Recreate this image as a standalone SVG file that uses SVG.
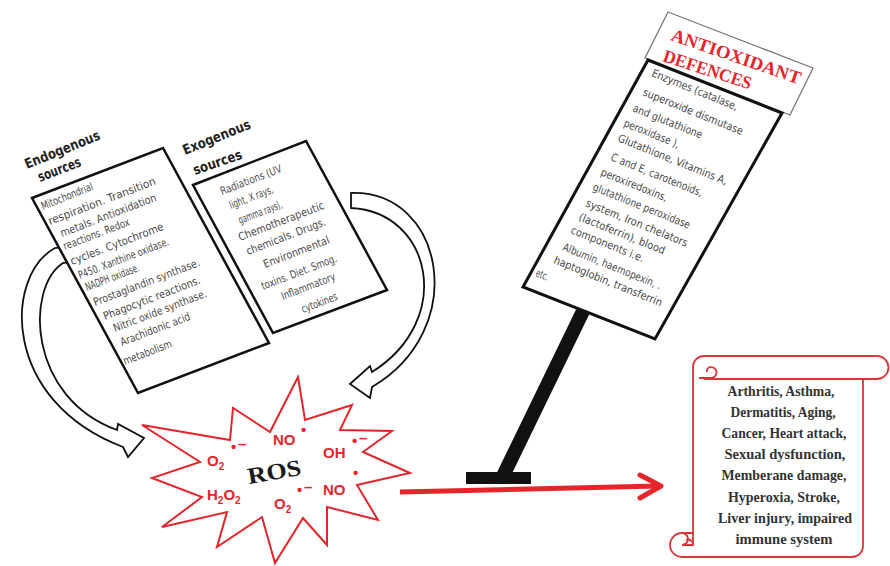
<svg xmlns="http://www.w3.org/2000/svg" width="890" height="566" viewBox="0 0 890 566">
  <style>
    .bx { fill: #fff; stroke: #111; stroke-width: 2.5; stroke-linejoin: miter; }
    .arw { fill: #fff; stroke: #111; stroke-width: 1.8; stroke-linejoin: miter; }
    .t { font-family: "DejaVu Sans Condensed", "DejaVu Sans", sans-serif; font-stretch: condensed; font-size: 11px; fill: #4a4a4a; }
    .hd { font-family: "DejaVu Sans Condensed", "DejaVu Sans", sans-serif; font-stretch: condensed; font-weight: bold; font-size: 14px; fill: #222; }
    .ttl { font-family: "Liberation Serif", "DejaVu Serif", serif; font-weight: bold; font-size: 18px; fill: #e3262b; }
    .ros { font-family: "Liberation Sans", Arial, sans-serif; font-weight: bold; font-size: 15px; fill: #e3262b; }
    .sc { font-family: "Liberation Serif", "DejaVu Serif", serif; font-weight: bold; font-size: 15px; fill: #333; text-anchor: middle; }
  </style>

  <!-- connectors -->
  <g id="connectors">
    <!-- hollow curved arrow: endogenous sources to ROS -->
    <path class="arw" d="M 72 245 L 55 248 C 5 275, 0 400, 123 447 L 128 457 L 144 438 L 118 424 L 117 430 C 28 398, 25 288, 63 263 L 78 260 Z"/>
    <!-- hollow curved arrow: exogenous sources to ROS -->
    <path class="arw" d="M 351 193 C 445 190, 470 330, 372 387 L 370 398 L 350 384 L 370 366 L 372 372 C 455 320, 432 212, 351 208 Z"/>
    <!-- inhibition post from the antioxidant sign -->
    <line x1="586" y1="305" x2="503" y2="476" stroke="#111" stroke-width="14"/>
    <rect x="466" y="472" width="65" height="12" fill="#111"/>
    <!-- red arrow from ROS to outcomes -->
    <line x1="400" y1="492" x2="658" y2="486" stroke="#e3262b" stroke-width="5"/>
    <polyline points="640,475 661,486 640,498" fill="none" stroke="#e3262b" stroke-width="5" stroke-linecap="round" stroke-linejoin="round"/>
  </g>

  <!-- endogenous sources -->
  <g id="endogenous">
    <polygon class="bx" points="32,198 163,148 269,343 138,393"/>
    <text class="hd" x="27" y="169" transform="rotate(-22 27 169)" textLength="80" lengthAdjust="spacingAndGlyphs">Endogenous</text>
    <text class="hd" x="40" y="182" transform="rotate(-21 40 182)" textLength="45" lengthAdjust="spacingAndGlyphs">sources</text>
    <g class="t">
      <text x="43" y="210" transform="rotate(-22 43 210)" textLength="55" lengthAdjust="spacingAndGlyphs">Mitochondrial</text>
      <text x="50" y="225" transform="rotate(-21 50 225)" textLength="114" lengthAdjust="spacingAndGlyphs">respiration. Transition</text>
      <text x="62" y="237" transform="rotate(-21 62 237)" textLength="102" lengthAdjust="spacingAndGlyphs">metals. Antioxidation</text>
      <text x="65" y="250" transform="rotate(-21 65 250)" textLength="70" lengthAdjust="spacingAndGlyphs">reactions. Redox</text>
      <text x="72" y="265" transform="rotate(-21 72 265)" textLength="99" lengthAdjust="spacingAndGlyphs">cycles. Cytochrome</text>
      <text x="80" y="279" transform="rotate(-21 80 279)" textLength="96" lengthAdjust="spacingAndGlyphs">P450. Xanthine oxidase.</text>
      <text x="87" y="291" transform="rotate(-21 87 291)" textLength="57" lengthAdjust="spacingAndGlyphs">NADPH oxidase.</text>
      <text x="95" y="306" transform="rotate(-21 95 306)" textLength="113" lengthAdjust="spacingAndGlyphs">Prostaglandin synthase.</text>
      <text x="105" y="320" transform="rotate(-21 105 320)" textLength="103" lengthAdjust="spacingAndGlyphs">Phagocytic reactions.</text>
      <text x="115" y="332" transform="rotate(-21 115 332)" textLength="99" lengthAdjust="spacingAndGlyphs">Nitric oxide synthase.</text>
      <text x="122" y="346" transform="rotate(-21 122 346)" textLength="74" lengthAdjust="spacingAndGlyphs">Arachidonic acid</text>
      <text x="125" y="365" transform="rotate(-21 125 365)" textLength="51" lengthAdjust="spacingAndGlyphs">metabolism</text>
    </g>
  </g>

  <!-- exogenous sources -->
  <g id="exogenous">
    <polygon class="bx" points="193,185 306,141 387,290 273,333"/>
    <text class="hd" x="185" y="155" transform="rotate(-22 185 155)" textLength="72" lengthAdjust="spacingAndGlyphs">Exogenous</text>
    <text class="hd" x="195" y="175" transform="rotate(-19 195 175)" textLength="51" lengthAdjust="spacingAndGlyphs">sources</text>
    <g class="t">
      <text x="222" y="195" transform="rotate(-21 222 195)" textLength="65" lengthAdjust="spacingAndGlyphs">Radiations (UV</text>
      <text x="231" y="209" transform="rotate(-21 231 209)" textLength="46" lengthAdjust="spacingAndGlyphs">light, X rays,</text>
      <text x="240" y="224" transform="rotate(-21 240 224)" textLength="46" lengthAdjust="spacingAndGlyphs">gamma rays),</text>
      <text x="240" y="241" transform="rotate(-21 240 241)" textLength="91" lengthAdjust="spacingAndGlyphs">Chemotherapeutic</text>
      <text x="248" y="255" transform="rotate(-21 248 255)" textLength="84" lengthAdjust="spacingAndGlyphs">chemicals. Drugs.</text>
      <text x="265" y="268" transform="rotate(-21 265 268)" textLength="70" lengthAdjust="spacingAndGlyphs">Environmental</text>
      <text x="263" y="290" transform="rotate(-21 263 290)" textLength="80" lengthAdjust="spacingAndGlyphs">toxins. Diet. Smog.</text>
      <text x="283" y="300" transform="rotate(-21 283 300)" textLength="57" lengthAdjust="spacingAndGlyphs">Inflammatory</text>
      <text x="303" y="313" transform="rotate(-21 303 313)" textLength="38" lengthAdjust="spacingAndGlyphs">cytokines</text>
    </g>
  </g>

  <!-- antioxidant defences sign -->
  <g id="antioxidant">
    <polygon points="668,12 813,68 790,115 645,58" fill="#fff" stroke="#777" stroke-width="1.3"/>
    <text class="ttl" x="670" y="40" transform="rotate(19 670 40)" textLength="136" lengthAdjust="spacingAndGlyphs">ANTIOXIDANT</text>
    <text class="ttl" x="662" y="61" transform="rotate(18 662 61)" textLength="92" lengthAdjust="spacingAndGlyphs">DEFENCES</text>
    <polygon class="bx" points="648,60 782,113 655,339 523,287" style="stroke-width:3"/>
    <g class="t">
      <text x="651" y="76" transform="rotate(22 651 76)" textLength="92" lengthAdjust="spacingAndGlyphs">Enzymes (catalase,</text>
      <text x="642" y="95" transform="rotate(22 642 95)" textLength="107" lengthAdjust="spacingAndGlyphs">superoxide dismutase</text>
      <text x="632" y="111" transform="rotate(22 632 111)" textLength="74" lengthAdjust="spacingAndGlyphs">and glutathione</text>
      <text x="623" y="126" transform="rotate(22 623 126)" textLength="59" lengthAdjust="spacingAndGlyphs">peroxidase ),</text>
      <text x="617" y="141" transform="rotate(22 617 141)" textLength="117" lengthAdjust="spacingAndGlyphs">Glutathione, Vitamins A,</text>
      <text x="610" y="160" transform="rotate(22 610 160)" textLength="98" lengthAdjust="spacingAndGlyphs">C and E, carotenoids,</text>
      <text x="600" y="175" transform="rotate(22 600 175)" textLength="71" lengthAdjust="spacingAndGlyphs">peroxiredoxins,</text>
      <text x="592" y="190" transform="rotate(22 592 190)" textLength="104" lengthAdjust="spacingAndGlyphs">glutathione peroxidase</text>
      <text x="585" y="206" transform="rotate(22 585 206)" textLength="109" lengthAdjust="spacingAndGlyphs">system, Iron chelators</text>
      <text x="578" y="220" transform="rotate(22 578 220)" textLength="92" lengthAdjust="spacingAndGlyphs">(lactoferrin), blood</text>
      <text x="570" y="233" transform="rotate(22 570 233)" textLength="78" lengthAdjust="spacingAndGlyphs">components i.e.</text>
      <text x="562" y="250" transform="rotate(22 562 250)" textLength="105" lengthAdjust="spacingAndGlyphs">Albumin, haemopexin, .</text>
      <text x="553" y="263" transform="rotate(22 553 263)" textLength="116" lengthAdjust="spacingAndGlyphs">haptoglobin, transferrin</text>
      <text x="535" y="276" transform="rotate(22 535 276)" textLength="13" lengthAdjust="spacingAndGlyphs">etc.</text>
    </g>
  </g>

  <!-- reactive oxygen species burst -->
  <g id="ros">
    <polygon points="298,377 305,420 352,405 340,430 392,431 363,452 410,473 357,485 378,520 327,507 327,545 303,518 275,563 262,517 217,547 227,512 162,527 202,497 152,478 200,462 142,425 230,440 233,408 270,432" fill="#fff" stroke="#e3262b" stroke-width="2" stroke-linejoin="miter"/>
    <text class="ros" x="273" y="445">NO</text>
    <text class="ros" x="301" y="435" font-size="9">•</text>
    <text class="ros" x="323" y="458">OH</text>
    <text class="ros" x="352" y="446" font-size="9">•</text>
    <text class="ros" x="359" y="443" font-size="13">–</text>
    <text class="ros" x="207" y="466">O<tspan font-size="10" dy="4">2</tspan></text>
    <text class="ros" x="231" y="452" font-size="9">•</text>
    <text class="ros" x="238" y="449" font-size="13">–</text>
    <text class="ros" x="207" y="500">H<tspan font-size="10" dy="4">2</tspan><tspan dy="-4">O</tspan><tspan font-size="10" dy="4">2</tspan></text>
    <text class="ros" x="323" y="495">NO</text>
    <text class="ros" x="353" y="478" font-size="9">•</text>
    <text class="ros" x="274" y="509">O<tspan font-size="10" dy="4">2</tspan></text>
    <text class="ros" x="297" y="495" font-size="9">•</text>
    <text class="ros" x="304" y="492" font-size="13">–</text>
    <text x="249" y="484" transform="rotate(-10 249 484)" font-family="'Liberation Serif', 'DejaVu Serif', serif" font-weight="bold" font-size="23" fill="#1a1a1a" textLength="54" lengthAdjust="spacingAndGlyphs">ROS</text>
  </g>

  <!-- outcome scroll -->
  <g id="outcomes">
    <path d="M 693 533 V 367 A 11 11 0 0 1 704 356 H 877 A 11.5 11.5 0 0 1 877 379 H 863 V 546 A 11 11 0 0 1 852 557 H 682 A 12 12 0 0 1 682 533 Z" fill="#fff" stroke="#d9363a" stroke-width="1.8"/>
    <path d="M 704 379 H 863 M 699 378 H 711 A 5.5 5.5 0 0 0 711 367 A 4 4 0 0 0 707 372 M 693 533 V 546 M 682 533 A 6 6 0 0 1 682 545 H 693 A 5 5 0 0 0 686 540" fill="none" stroke="#d9363a" stroke-width="1.8"/>
    <text class="sc" x="781" y="396" textLength="107" lengthAdjust="spacingAndGlyphs">Arthritis, Asthma,</text>
    <text class="sc" x="783" y="417" textLength="105" lengthAdjust="spacingAndGlyphs">Dermatitis, Aging,</text>
    <text class="sc" x="784" y="438" textLength="125" lengthAdjust="spacingAndGlyphs">Cancer, Heart attack,</text>
    <text class="sc" x="785" y="459" textLength="121" lengthAdjust="spacingAndGlyphs">Sexual dysfunction,</text>
    <text class="sc" x="784" y="480" textLength="125" lengthAdjust="spacingAndGlyphs">Memberane damage,</text>
    <text class="sc" x="784" y="502" textLength="112" lengthAdjust="spacingAndGlyphs">Hyperoxia, Stroke,</text>
    <text class="sc" x="785" y="523" textLength="134" lengthAdjust="spacingAndGlyphs">Liver injury, impaired</text>
    <text class="sc" x="784" y="544" textLength="97" lengthAdjust="spacingAndGlyphs">immune system</text>
  </g>
</svg>
